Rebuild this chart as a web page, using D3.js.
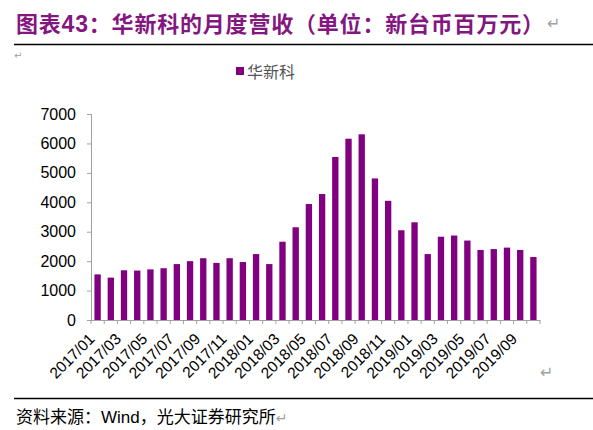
<!DOCTYPE html>
<html>
<head>
<meta charset="utf-8">
<script src="https://cdn.jsdelivr.net/npm/d3@7"></script>
<style>
  body { margin: 0; background: #fff; }
  svg { display: block; }
</style>
</head>
<body>
<div id="chart"></div>
<script>
// monthly revenue, million NTD
var months = ["2017/01","2017/02","2017/03","2017/04","2017/05","2017/06","2017/07","2017/08","2017/09","2017/10","2017/11","2017/12",
  "2018/01","2018/02","2018/03","2018/04","2018/05","2018/06","2018/07","2018/08","2018/09","2018/10","2018/11","2018/12",
  "2019/01","2019/02","2019/03","2019/04","2019/05","2019/06","2019/07","2019/08","2019/09","2019/10"];
var revenue = [1550,1440,1690,1680,1720,1760,1900,2000,2100,1940,2100,1970,
  2240,1900,2660,3150,3940,4280,5540,6160,6310,4810,4050,3050,
  3320,2240,2830,2870,2700,2380,2410,2460,2380,2140];
var yTicks = [0,1000,2000,3000,4000,5000,6000,7000];
var seriesName = "华新科";

var svgWidth = 593;
var svgHeight = 430;
var cjk = "'Noto Sans CJK SC', sans-serif";
var latin = "'Liberation Sans', Arial, sans-serif";
var purple = "#800080";
var titleColor = "#84177f";
var markColor = "#a0a0a0";

var margin = { top: 114, right: 53, bottom: 110, left: 91 };

var svg = d3.select("#chart")
  .append("svg")
  .attr("width", svgWidth)
  .attr("height", svgHeight);

// title
var title = svg.append("text")
  .attr("x", 16)
  .attr("y", 32)
  .attr("fill", titleColor)
  .attr("font-weight", "bold")
  .attr("font-size", 22)
  .attr("letter-spacing", 0.8)
  .style("font-family", cjk);
title.append("tspan").text("图表");
title.append("tspan").style("font-family", latin).attr("font-size", 23).text("43");
title.append("tspan").text("：华新科的月度营收（单位：新台币百万元）");

svg.append("line")
  .attr("x1", 14).attr("x2", svgWidth)
  .attr("y1", 44.5).attr("y2", 44.5)
  .attr("stroke", "#000").attr("stroke-width", 1.3);

// paragraph marks
function paraMark(x, y, size) {
  svg.append("text")
    .attr("x", x).attr("y", y)
    .attr("fill", markColor)
    .attr("font-size", size)
    .style("font-family", "'DejaVu Sans', sans-serif")
    .text("↵");
}
paraMark(547, 29, 16);
paraMark(14, 59, 10);
paraMark(540, 378, 16);

// legend
svg.append("rect")
  .attr("x", 236).attr("y", 67)
  .attr("width", 8).attr("height", 8)
  .attr("fill", purple);
svg.append("text")
  .attr("x", 247).attr("y", 78)
  .attr("font-size", 16)
  .attr("fill", "#555")
  .style("font-family", cjk)
  .text(seriesName);

var width = svgWidth - margin.left - margin.right;
var height = 320 - margin.top;

var chartGroup = svg.append("g")
  .attr("transform", `translate(${margin.left}, ${margin.top})`);

var xBandScale = d3.scaleBand()
  .domain(months)
  .range([0, width])
  .paddingInner(0.52)
  .paddingOuter(0.26);

var yLinearScale = d3.scaleLinear()
  .domain([0, 7000])
  .range([height, 0]);

// y axis
var leftAxis = d3.axisLeft(yLinearScale)
  .tickValues(yTicks)
  .tickSize(4)
  .tickPadding(11)
  .tickFormat(d3.format("d"));

var yAxis = chartGroup.append("g")
  .classed("y-axis", true)
  .call(leftAxis);
yAxis.select(".domain").attr("stroke", markColor);
yAxis.selectAll(".tick line").attr("stroke", markColor);
yAxis.selectAll(".tick text")
  .attr("fill", "#000")
  .attr("font-size", 16)
  .style("font-family", latin);

// bars
chartGroup.selectAll("rect.bar")
  .data(revenue)
  .enter()
  .append("rect")
  .attr("class", "bar")
  .attr("x", (d, i) => xBandScale(months[i]))
  .attr("y", d => yLinearScale(d))
  .attr("width", xBandScale.bandwidth())
  .attr("height", d => height - yLinearScale(d))
  .attr("fill", purple);

// x axis: line and ticks between categories
var step = xBandScale.step();
var x0 = xBandScale(months[0]) - step * xBandScale.paddingOuter();
var xAxis = chartGroup.append("g")
  .classed("x-axis", true)
  .attr("transform", `translate(0, ${height})`);
xAxis.append("line")
  .attr("x1", 0).attr("x2", width)
  .attr("y1", 0.5).attr("y2", 0.5)
  .attr("stroke", markColor);
xAxis.selectAll("line.tick")
  .data(d3.range(months.length + 1))
  .enter()
  .append("line")
  .attr("class", "tick")
  .attr("x1", i => x0 + i * step)
  .attr("x2", i => x0 + i * step)
  .attr("y1", 0).attr("y2", 4)
  .attr("stroke", markColor);

// x labels, every other month
var labelMonths = months.filter((m, i) => i % 2 === 0);
xAxis.selectAll("text.xlabel")
  .data(labelMonths)
  .enter()
  .append("text")
  .attr("class", "xlabel")
  .attr("text-anchor", "end")
  .attr("font-size", 15.5)
  .style("font-family", latin)
  .attr("fill", "#000")
  .attr("transform", d => `translate(${xBandScale(d) + xBandScale.bandwidth() / 2 - 2}, 20) rotate(-45)`)
  .text(d => d);

// footer
svg.append("line")
  .attr("x1", 14).attr("x2", svgWidth)
  .attr("y1", 398.5).attr("y2", 398.5)
  .attr("stroke", "#000").attr("stroke-width", 1.3);

var foot = svg.append("text")
  .attr("x", 16)
  .attr("y", 423)
  .attr("font-size", 17)
  .attr("fill", "#000")
  .style("font-family", cjk);
foot.append("tspan").text("资料来源：");
foot.append("tspan").style("font-family", latin).text("Wind");
foot.append("tspan").text("，光大证券研究所");
foot.append("tspan")
  .attr("fill", markColor)
  .attr("font-size", 14)
  .style("font-family", "'DejaVu Sans', sans-serif")
  .text("↵");
</script>
</body>
</html>
